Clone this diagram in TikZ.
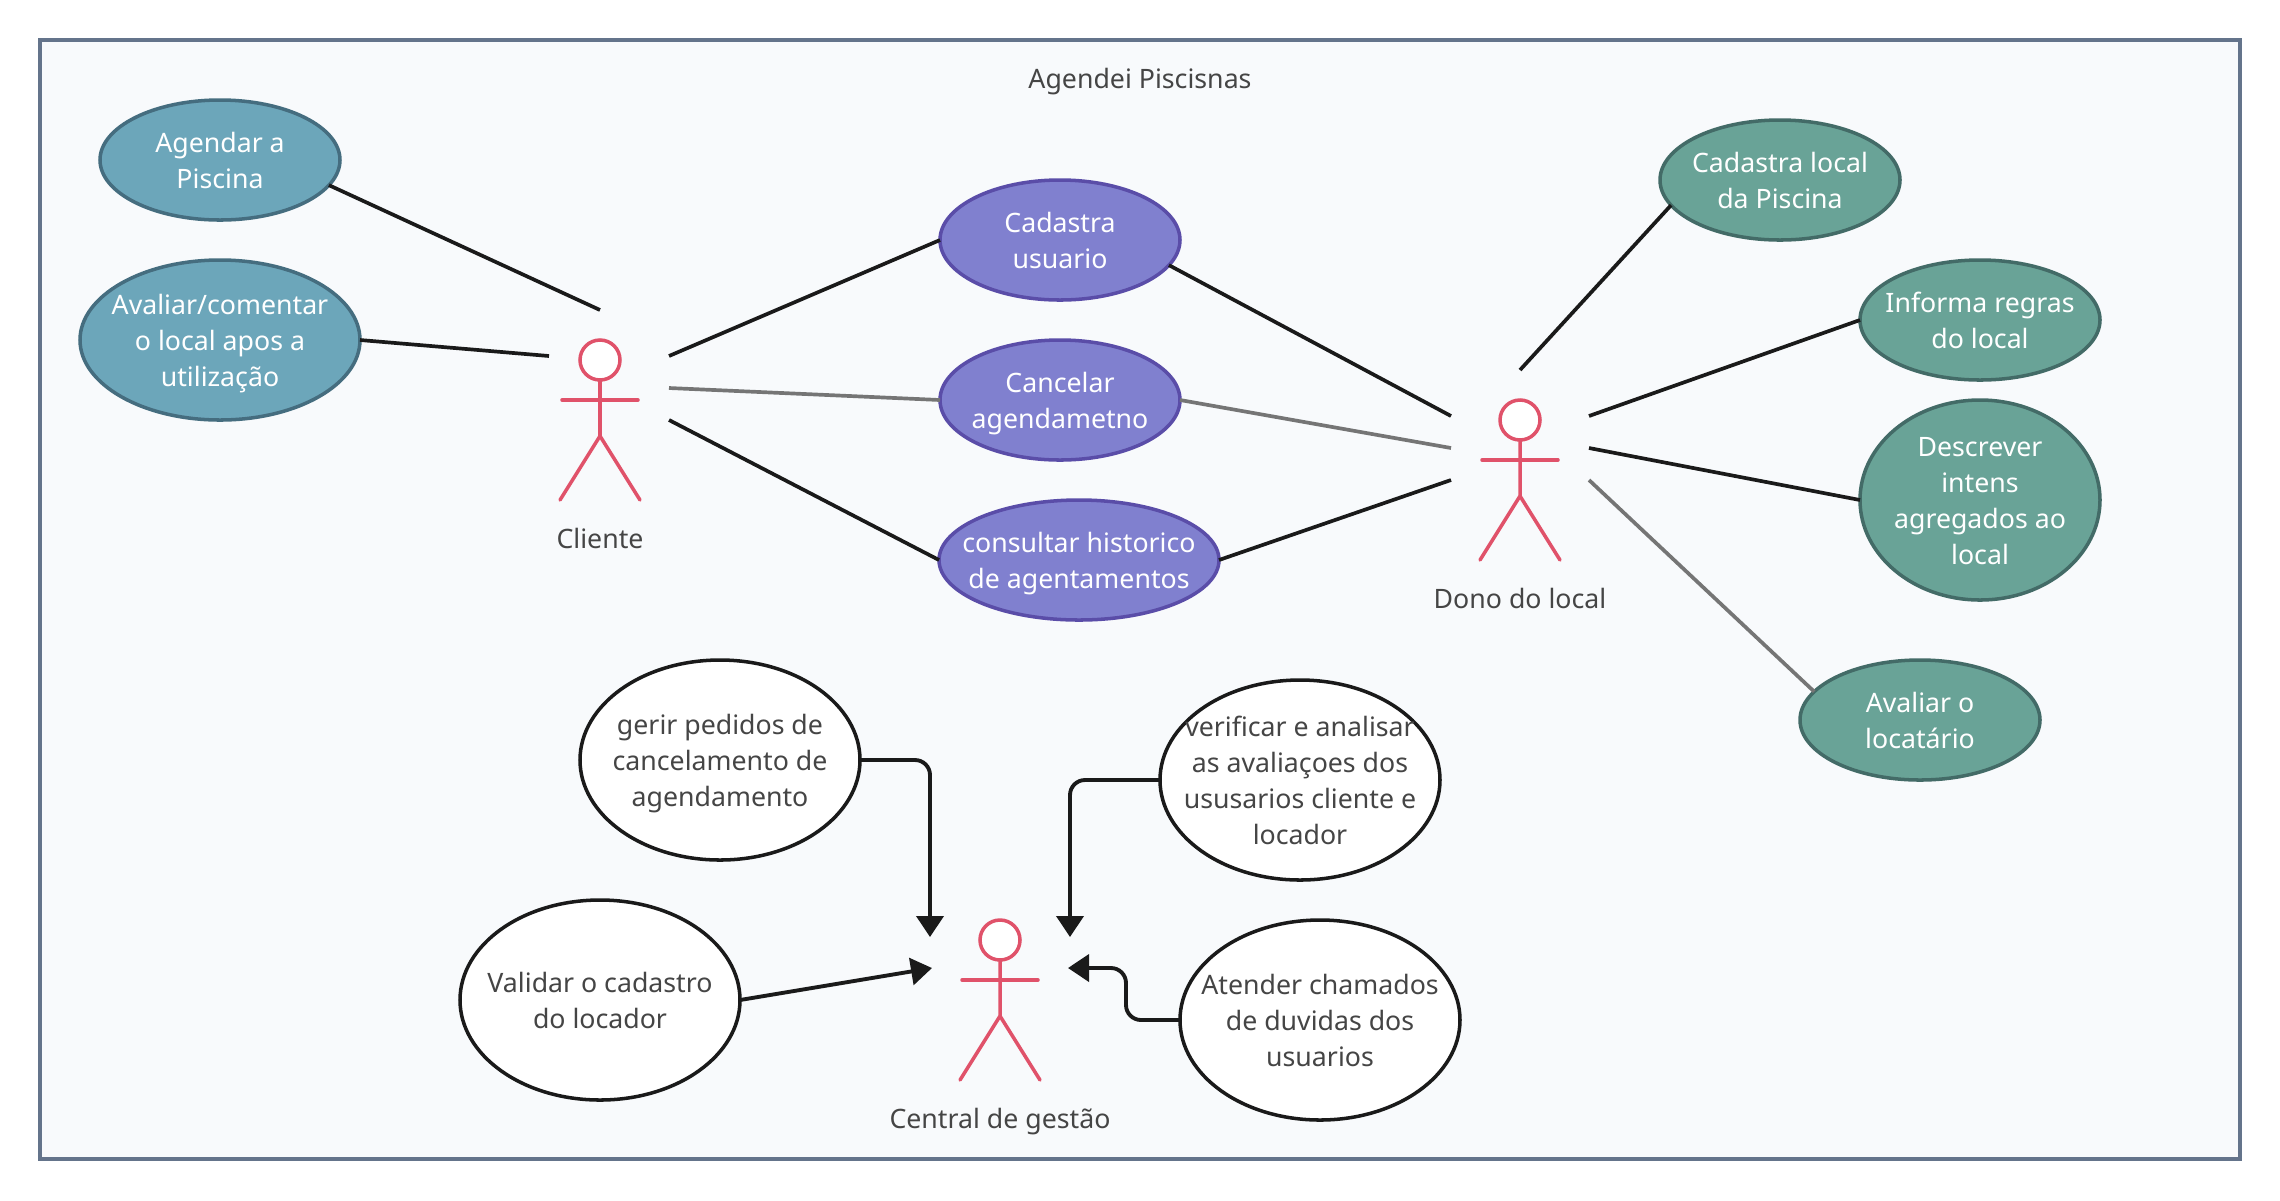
\documentclass[tikz,border=0pt]{standalone}
\usepackage{fontspec}
\setmainfont{Noto Sans}
\usetikzlibrary{shapes.geometric, arrows.meta}
\definecolor{framecol}{HTML}{64748B}
\definecolor{framefill}{HTML}{F8FAFC}
\definecolor{bluefill}{HTML}{6CA6BA}
\definecolor{bluedraw}{HTML}{456D7F}
\definecolor{purplefill}{HTML}{8080CF}
\definecolor{purpledraw}{HTML}{5A4DA8}
\definecolor{greenfill}{HTML}{69A397}
\definecolor{greendraw}{HTML}{436B67}
\definecolor{actorcol}{HTML}{E0526A}
\definecolor{inkcol}{HTML}{1A1A1A}
\definecolor{greycol}{HTML}{757575}
\definecolor{textcol}{HTML}{454545}

\begin{document}
\begin{tikzpicture}[
    frame/.style={rectangle, draw=framecol, fill=framefill, line width=1pt, minimum width=22cm, minimum height=11.19cm},
    usecase/.style={ellipse, line width=1pt, inner sep=-1cm, outer sep=0pt, minimum width=2.4cm, minimum height=1.2cm,
        text width=2.4cm, align=flush center, font=\fontsize{7.6}{10.25}\selectfont,
        execute at begin node={\rule{0pt}{8.9pt}}, execute at end node=\strut},
    bluecase/.style={usecase, draw=bluedraw, fill=bluefill, text=white},
    purplecase/.style={usecase, draw=purpledraw, fill=purplefill, text=white},
    greencase/.style={usecase, draw=greendraw, fill=greenfill, text=white},
    whitecase/.style={usecase, draw=inkcol, fill=white, text=textcol, minimum width=2.8cm, minimum height=2cm},
    actorhead/.style={circle, draw=actorcol, fill=white, line width=1pt, inner sep=0pt, outer sep=0pt, minimum size=.4cm},
    actorline/.style={draw=actorcol, line width=1pt, line cap=round},
    actorlabel/.style={text=textcol, font=\fontsize{7.6}{10.25}\selectfont, execute at begin node=\strut},
    assoc/.style={draw=inkcol, line width=1.05pt},
    assocgrey/.style={draw=greycol, line width=1.05pt},
    arrowline/.style={draw=inkcol, line width=1.1pt, rounded corners=.15cm, -{Triangle[width=.27cm, length=.21cm]}}
]
\useasboundingbox (0,0) rectangle (22.8,-12);

\node[frame] (box) at (11.4,-5.995) {};
\node[actorlabel] (title) at (11.4,-.815) {Agendei Piscisnas};

%=== Cliente ===
\node[actorhead] (cHead) at (6,-3.6) {};
\coordinate (cHip) at (6,-4.36);
\draw[actorline] (cHead) -- (cHip) -- (5.6,-5);
\draw[actorline] (cHip) -- (6.4,-5);
\draw[actorline] (5.62,-4) -- (6.38,-4);
\node[actorlabel] (cName) at (6,-5.41) {Cliente};
\coordinate (cTop) at (6,-3.1);
\coordinate (cLeft) at (5.49,-3.56);
\coordinate (cR1) at (6.69,-3.56);
\coordinate (cR2) at (6.69,-3.88);
\coordinate (cR3) at (6.69,-4.2);

%=== Dono do local ===
\node[actorhead] (dHead) at (15.2,-4.2) {};
\coordinate (dHip) at (15.2,-4.96);
\draw[actorline] (dHead) -- (dHip) -- (14.8,-5.6);
\draw[actorline] (dHip) -- (15.6,-5.6);
\draw[actorline] (14.82,-4.6) -- (15.58,-4.6);
\node[actorlabel] (dName) at (15.2,-6.01) {Dono do local};
\coordinate (dTop) at (15.2,-3.7);
\coordinate (dL1) at (14.51,-4.16);
\coordinate (dL2) at (14.51,-4.48);
\coordinate (dL3) at (14.51,-4.8);
\coordinate (dR1) at (15.89,-4.16);
\coordinate (dR2) at (15.89,-4.48);
\coordinate (dR3) at (15.89,-4.8);

%=== Central de gestao ===
\node[actorhead] (gHead) at (10,-9.4) {};
\coordinate (gHip) at (10,-10.16);
\draw[actorline] (gHead) -- (gHip) -- (9.6,-10.8);
\draw[actorline] (gHip) -- (10.4,-10.8);
\draw[actorline] (9.62,-9.8) -- (10.38,-9.8);
\node[actorlabel] (gName) at (10,-11.21) {Central de gestão};
\coordinate (gTipA) at (9.3,-9.37);
\coordinate (gTipB) at (10.7,-9.37);
\coordinate (gTipC) at (9.32,-9.68);
\coordinate (gTipD) at (10.68,-9.68);

% blue cases
\node[bluecase] (agendar) at (2.2,-1.6) {Agendar a\\Piscina};
\node[bluecase, minimum width=2.8cm, minimum height=1.6cm] (avaliar) at (2.2,-3.4) {Avaliar/comentar\\o local apos a\\utilização};

% purple cases
\node[purplecase] (cadastra) at (10.6,-2.4) {Cadastra\\usuario};
\node[purplecase] (cancelar) at (10.6,-4) {Cancelar\\agendametno};
\node[purplecase, minimum width=2.8cm] (consultar) at (10.79,-5.6) {consultar historico\\de agentamentos};

% green cases
\node[greencase] (local) at (17.8,-1.8) {Cadastra local\\da Piscina};
\node[greencase] (regras) at (19.8,-3.2) {Informa regras\\do local};
\node[greencase, minimum height=2cm] (intens) at (19.8,-5) {Descrever\\intens\\agregados ao\\local};
\node[greencase] (locatario) at (19.2,-7.2) {Avaliar o\\locatário};

% white cases
\node[whitecase] (gerir) at (7.2,-7.6) {gerir pedidos de\\cancelamento de\\agendamento};
\node[whitecase] (verificar) at (13,-7.8) {verificar e analisar\\as avaliaçoes dos\\ususarios cliente e\\locador};
\node[whitecase] (validar) at (6,-10) {Validar o cadastro\\do locador};
\node[whitecase] (atender) at (13.2,-10.2) {Atender chamados\\de duvidas dos\\usuarios};

% Cliente associations
\draw[assoc] (agendar.-13.5) -- (cTop);
\draw[assoc] (avaliar.east) -- (cLeft);
\draw[assoc] (cR1) -- (cadastra.west);
\draw[assocgrey] (cR2) -- (cancelar.west);
\draw[assoc] (cR3) -- (consultar.west);

% Dono associations
\draw[assoc] (cadastra.-13.5) -- (dL1);
\draw[assocgrey] (cancelar.east) -- (dL2);
\draw[assoc] (consultar.east) -- (dL3);
\draw[assoc] (local.193) -- (dTop);
\draw[assoc] (dR1) -- (regras.west);
\draw[assoc] (dR2) -- (intens.west);
\draw[assocgrey] (dR3) -- (locatario.165);

% Central arrows
\draw[arrowline] (gerir.east) -| (gTipA);
\draw[arrowline] (verificar.west) -| (gTipB);
\draw[arrowline] (validar.east) -- (gTipC);
\draw[arrowline] (atender.west) -- (11.26,-10.2) |- (gTipD);

\end{tikzpicture}
\end{document}
